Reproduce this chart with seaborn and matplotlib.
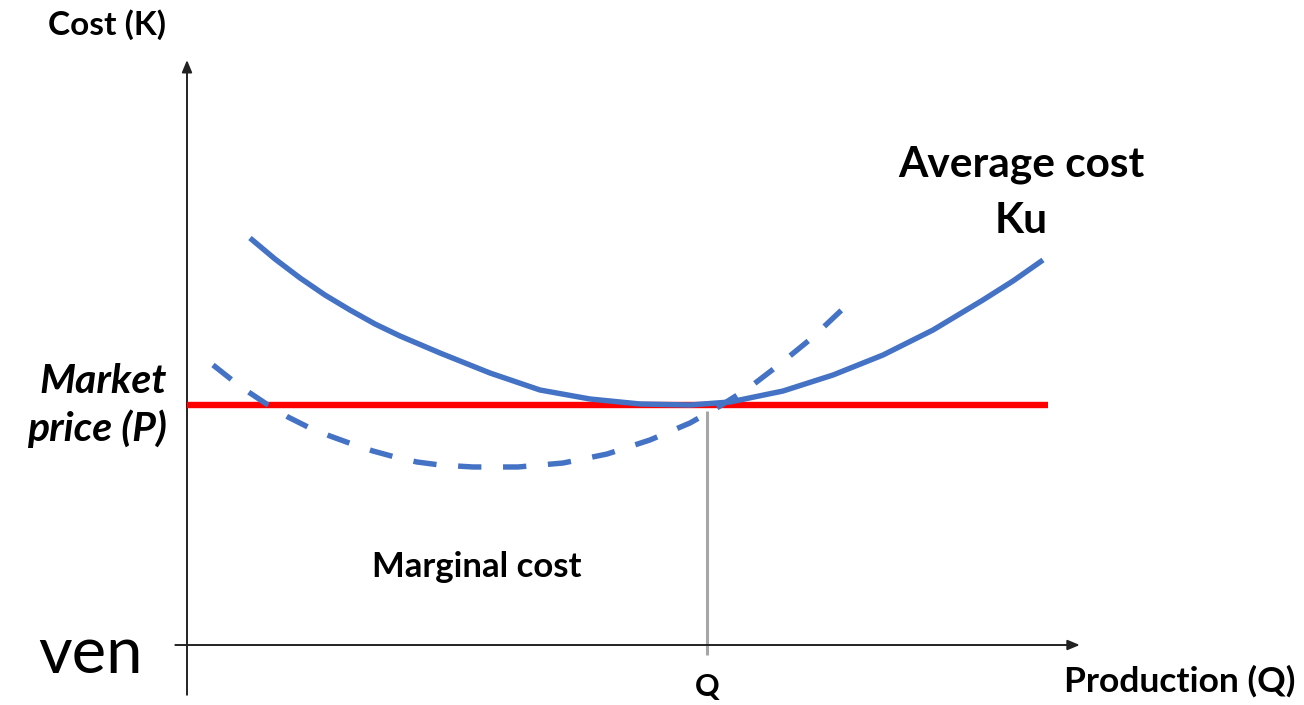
import matplotlib
matplotlib.use("Agg")
import matplotlib.pyplot as plt
import seaborn as sns
import pandas as pd

sns.set_theme(style="white")
plt.rcParams['font.family'] = ['Lato', 'DejaVu Sans']

# Average cost (Ku) curve: production Q vs cost
ac_q = [7.00, 9.78, 12.56, 15.33, 18.11, 20.89, 23.67, 28.11, 33.67, 39.22, 44.78, 50.33, 55.89,
        60.33, 66.22, 71.78, 77.33, 82.89, 88.44, 91.78, 95.11]
ac_c = [67.83, 64.33, 61.17, 58.33, 55.83, 53.50, 51.50, 48.67, 45.33, 42.50, 41.00, 40.17, 40.00,
        40.50, 42.33, 45.00, 48.33, 52.50, 57.50, 60.67, 64.17]

# Marginal cost curve
mc_q = [2.89, 5.00, 7.00, 9.00, 11.22, 13.44, 15.89, 18.33, 20.67, 23.11, 25.56, 28.11, 31.78,
        36.78, 41.78, 46.67, 51.44, 55.89, 59.22, 62.56, 65.89, 69.56, 73.33]
mc_c = [46.67, 44.17, 42.00, 40.00, 38.00, 36.33, 34.83, 33.50, 32.33, 31.33, 30.50, 30.00, 29.67,
        29.67, 30.33, 31.83, 34.17, 37.00, 39.83, 43.00, 46.83, 51.33, 56.67]

market_price = 40.0
q_star = 57.8
price_line_q = [0.0, 95.67]

axis_x_end = 99.2
axis_y_end = 97.5

BLUE = "#4472C4"
RED = "#FF0000"

fig = plt.figure(figsize=(13.04, 7.05), dpi=100)
ax = fig.add_axes([0, 0, 1, 1])
ax.set_xlim(-187 / 9, (1304 - 187) / 9)
ax.set_ylim(-10, 107.5)
ax.axis("off")

# axes arrows
ax.annotate("", xy=(0, axis_y_end), xytext=(0, -8.3),
            arrowprops=dict(arrowstyle="-|>,head_length=0.6,head_width=0.25",
                            color="#222222", lw=1.4, shrinkA=0, shrinkB=0))
ax.annotate("", xy=(axis_x_end, 0), xytext=(-1.3, 0),
            arrowprops=dict(arrowstyle="-|>,head_length=0.6,head_width=0.25",
                            color="#222222", lw=1.4, shrinkA=0, shrinkB=0))

# vertical line at Q
ax.plot([q_star, q_star], [39.0, -1.7], color="#A6A6A6", lw=2.2, solid_capstyle="butt")

# market price line
sns.lineplot(x=price_line_q, y=[market_price, market_price], ax=ax, color=RED,
             lw=4.6, solid_capstyle="butt", zorder=3)

# average cost
sns.lineplot(data=pd.DataFrame({"q": ac_q, "c": ac_c}), x="q", y="c", ax=ax,
             color=BLUE, lw=3.9, sort=False, zorder=4, solid_capstyle="butt")

# marginal cost
sns.lineplot(data=pd.DataFrame({"q": mc_q, "c": mc_c}), x="q", y="c", ax=ax,
             color=BLUE, lw=3.9, sort=False, zorder=4,
             linestyle=(0, (4.3, 4.0)), dash_capstyle="butt")

def px(xp, yp):
    return ((xp - 187) / 9, (645 - yp) / 6)

ax.text(*px(107, 35), "Cost (K)", ha="center", va="baseline", fontsize=24, fontweight="bold", color="black")
ax.text(*px(1021, 177), "Average cost", ha="center", va="baseline", fontsize=30.5, fontweight="bold", color="black")
ax.text(*px(1021, 233), "Ku", ha="center", va="baseline", fontsize=30.5, fontweight="bold", color="black")
ax.text(*px(167, 393), "Market", ha="right", va="baseline", fontsize=29.5, fontweight="bold", style="italic", color="black")
ax.text(*px(167, 441), "price (P)", ha="right", va="baseline", fontsize=29.5, fontweight="bold", style="italic", color="black")
ax.text(*px(477, 577), "Marginal cost", ha="center", va="baseline", fontsize=25, fontweight="bold", color="black")
ax.text(*px(1180, 692), "Production (Q)", ha="center", va="baseline", fontsize=25.5, fontweight="bold", color="black")
ax.text(*px(707, 696), "Q", ha="center", va="baseline", fontsize=22, fontweight="bold", color="black")
ax.text(*px(38, 673), "ven", ha="left", va="baseline", fontsize=47, color="black")

fig.savefig("out.png", dpi=100)
